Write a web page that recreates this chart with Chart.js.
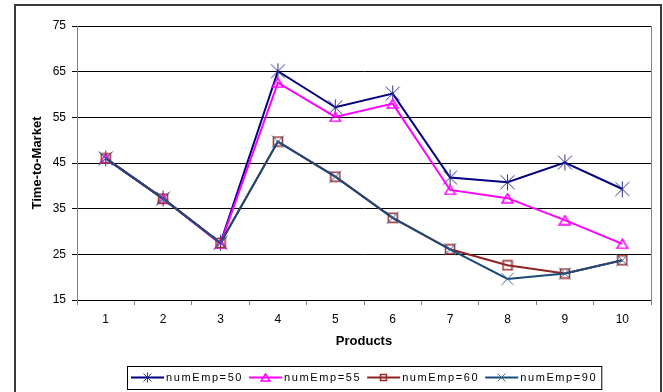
<!DOCTYPE html>
<html><head><meta charset="utf-8">
<script src="https://cdn.jsdelivr.net/npm/chart.js@4/dist/chart.umd.min.js"></script>
<style>html,body{margin:0;padding:0;background:#fff}#wrap{width:663px;height:392px;position:relative}</style>
</head><body><div id="wrap"><canvas id="c" width="663" height="392"></canvas></div>
<script>
const categories = ['1','2','3','4','5','6','7','8','9','10'];
const seriesNames = ['numEmp=50','numEmp=55','numEmp=60','numEmp=90'];
const emp50 = [46, 37.2, 27.5, 65.1, 57.2, 60.2, 41.8, 40.8, 45.1, 39.3];
const emp55 = [46, 37.2, 27.3, 62.6, 55.1, 58.0, 39.1, 37.3, 32.5, 27.3];
const emp60 = [46, 37.2, 27.5, 49.7, 42.0, 33.0, 26.1, 22.6, 20.8, 23.7];
const emp90 = [46, 37.2, 27.5, 49.7, 42.0, 33.0, 26.1, 19.6, 20.8, 23.7];
const yTicks = [15, 25, 35, 45, 55, 65, 75];

const FONT = "'Liberation Sans', Arial, sans-serif";

function mk(w, h, fn) { const c = document.createElement('canvas'); c.width = w; c.height = h; fn(c.getContext('2d')); return c; }
function star(s, col) { return mk(s, s, g => { const m = s / 2, e = s - 1.5; g.strokeStyle = col; g.lineWidth = 1; g.beginPath();
  g.moveTo(m, 0.5); g.lineTo(m, s - 0.5); g.moveTo(1.5, 1.5); g.lineTo(e, e); g.moveTo(e, 1.5); g.lineTo(1.5, e); g.stroke(); }); }
function tri(w, h, col) { return mk(w, h, g => { g.strokeStyle = col; g.lineWidth = 1.5; g.beginPath();
  g.moveTo(w / 2, 1); g.lineTo(w - 1, h - 1); g.lineTo(1, h - 1); g.closePath(); g.stroke(); }); }
function sq(s, col) { return mk(s, s, g => { g.strokeStyle = col; g.lineWidth = 1.5; g.strokeRect(1.5, 1.5, s - 3, s - 3); }); }
function xx(s, col) { return mk(s, s, g => { const e = s - 1.5; g.strokeStyle = col; g.lineWidth = 1; g.beginPath();
  g.moveTo(1.5, 1.5); g.lineTo(e, e); g.moveTo(e, 1.5); g.lineTo(1.5, e); g.stroke(); }); }

const colors = ['#000080', '#ff00ff', '#8e2323', '#1a4a7a'];
const markers = [star(17, '#2e2e95'), tri(13, 11, '#ff00ff'), sq(12, '#9a2a2a'), xx(15, '#3a6a9a')];
const legendMarkers = [star(11, '#2e2e95'), tri(11, 9, '#ff00ff'), sq(9, '#9a2a2a'), xx(11, '#3a6a9a')];
const values = [emp50, emp55, emp60, emp90];

const frame = {
  id: 'frame',
  beforeDraw(chart) {
    const ctx = chart.ctx; ctx.save();
    ctx.fillStyle = '#fff'; ctx.fillRect(0, 0, chart.width, chart.height);
    ctx.strokeStyle = '#3a3a3a'; ctx.lineWidth = 2; ctx.strokeRect(15, 5, 646, 500);
    ctx.restore();
  },
  afterDatasetsDraw(chart) {
    const ctx = chart.ctx, a = chart.chartArea; ctx.save();
    ctx.strokeStyle = '#808080'; ctx.lineWidth = 1;
    ctx.beginPath(); ctx.moveTo(Math.round(a.right) + 0.5, a.top); ctx.lineTo(Math.round(a.right) + 0.5, a.bottom + 5); ctx.stroke();
    ctx.restore();
  },
  afterDraw(chart) {
    const ctx = chart.ctx, a = chart.chartArea; ctx.save();
    ctx.font = '11px ' + FONT; ctx.letterSpacing = '1.6px'; ctx.textBaseline = 'middle'; ctx.fillStyle = '#000';
    const ds = chart.data.datasets;
    const widths = ds.map(d => ctx.measureText(d.label).width);
    const total = 4 + widths.reduce((s, w) => s + 35 + w + 6, 0) - 2;
    const left = Math.round((a.left + a.right) / 2 - total / 2);
    const top = 366, h = 23, cy = top + h / 2;
    ctx.strokeStyle = '#000'; ctx.lineWidth = 1; ctx.strokeRect(left + 0.5, top + 0.5, total, h);
    let x = left + 4;
    ds.forEach((d, i) => {
      ctx.strokeStyle = d.borderColor; ctx.lineWidth = 2;
      ctx.beginPath(); ctx.moveTo(x, cy); ctx.lineTo(x + 33, cy); ctx.stroke();
      const img = legendMarkers[i]; ctx.drawImage(img, Math.round(x + 16.5 - img.width / 2), Math.round(cy - img.height / 2));
      ctx.fillText(d.label, x + 35, cy);
      x += 35 + widths[i] + 6;
    });
    ctx.restore();
  }
};

new Chart(document.getElementById('c'), {
  type: 'line',
  data: {
    labels: categories,
    datasets: values.map((v, i) => ({
      label: seriesNames[i], data: v, borderColor: colors[i], backgroundColor: colors[i],
      borderWidth: 2, tension: 0, fill: false, pointStyle: markers[i], pointRadius: 6,
      order: 4 - i
    }))
  },
  options: {
    responsive: false, animation: false, devicePixelRatio: 1,
    layout: { padding: { left: 14, top: 26, right: 12, bottom: 43 } },
    plugins: { legend: { display: false }, tooltip: { enabled: false }, title: { display: false } },
    scales: {
      x: {
        offset: true,
        grid: { offset: true, drawOnChartArea: false, drawTicks: true, tickLength: 5, color: '#808080' },
        border: { display: false },
        ticks: { color: '#000', font: { family: FONT, size: 12 }, padding: 7, maxRotation: 0 },
        title: { display: true, text: 'Products', color: '#000', font: { family: FONT, size: 13, weight: 'bold' }, padding: { top: 0, bottom: 0 } },
        afterFit(s) { s.height = 49; }
      },
      y: {
        min: yTicks[0], max: yTicks[yTicks.length - 1],
        afterBuildTicks(s) { s.ticks = yTicks.map(v => ({ value: v })); },
        grid: { color: '#000', lineWidth: 1, tickLength: 5, drawTicks: true },
        border: { display: true, color: '#808080', width: 1 },
        ticks: { color: '#000', font: { family: FONT, size: 12 }, padding: 6 },
        title: { display: true, text: 'Time-to-Market', color: '#000', font: { family: FONT, size: 13, weight: 'bold' }, padding: { top: 16, bottom: 0 } },
        afterFit(s) { s.width = 63; }
      }
    }
  },
  plugins: [frame]
});
</script></body></html>
